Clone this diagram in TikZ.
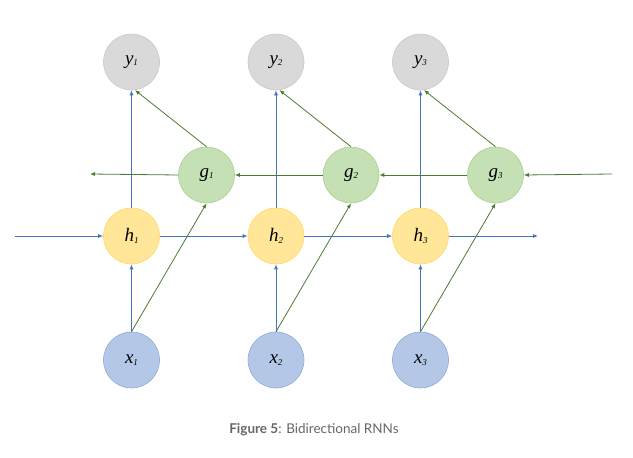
\documentclass[tikz,border=0pt]{standalone}
\usepackage{fontspec}
\newfontfamily\capfont{Lato}
\newfontfamily\lblfont{Liberation Serif}
\usetikzlibrary{arrows.meta}
\definecolor{yfill}{HTML}{D9D9D9}\definecolor{ydraw}{HTML}{C8C8C8}
\definecolor{gfill}{HTML}{C5E0B4}\definecolor{gdraw}{HTML}{A9D18E}
\definecolor{hfill}{HTML}{FFE699}\definecolor{hdraw}{HTML}{FFD966}
\definecolor{xfill}{HTML}{B4C7E7}\definecolor{xdraw}{HTML}{8FAADC}
\definecolor{bluearr}{HTML}{4472C4}\definecolor{greenarr}{HTML}{4E7A32}
\definecolor{capgray}{HTML}{666666}
\newcommand{\lbl}[2]{\lblfont\itshape #1\raisebox{-1.5pt}{\fontsize{9}{10}\selectfont #2}}
\tikzset{
  unit/.style={circle,minimum size=56pt,inner sep=0pt,line width=0.6pt,font=\fontsize{19}{21}\selectfont,text=black},
  ynode/.style={unit,fill=yfill,draw=ydraw},
  gnode/.style={unit,fill=gfill,draw=gdraw},
  hnode/.style={unit,fill=hfill,draw=hdraw},
  xnode/.style={unit,fill=xfill,draw=xdraw},
  barr/.style={draw=bluearr,line width=0.8pt,-{Latex[length=5pt,width=4pt]}},
  garr/.style={draw=greenarr,line width=0.8pt,-{Latex[length=5pt,width=4pt]}},
}
\begin{document}
\begin{tikzpicture}[x=1pt,y=-1pt]
\useasboundingbox (0,0) rectangle (633,458);
\foreach \i/\cx in {1/131.5,2/276,3/420.5}{
  \node[ynode] (y\i) at (\cx,62) {\lbl{y}{\i}};
  \node[gnode] (g\i) at (\cx+75,175) {\lbl{g}{\i}};
  \node[hnode] (h\i) at (\cx,236) {\lbl{h}{\i}};
  \node[xnode] (x\i) at (\cx,360) {\lbl{x}{\i}};
}
\coordinate (hin) at (15,236);
\coordinate (hout) at (538,236);
\coordinate (gin) at (612,174);
\coordinate (gout) at (90,174);
% vertical blue
\foreach \i in {1,2,3}{
  \draw[barr] (x\i.north) -- (h\i.south);
  \draw[barr] (h\i.north) -- (y\i.south);
}
% horizontal blue
\draw[barr] (hin) -- (h1.west);
\draw[barr] (h1.east) -- (h2.west);
\draw[barr] (h2.east) -- (h3.west);
\draw[barr] (h3.east) -- (hout);
% green
\draw[garr] (gin) -- (g3.east);
\draw[garr] (g3.west) -- (g2.east);
\draw[garr] (g2.west) -- (g1.east);
\draw[garr] (g1.west) -- (gout);
\foreach \i in {1,2,3}{
  \draw[garr] (x\i.north) -- (g\i.south);
  \draw[garr] (g\i.north) -- (y\i.-83);
}
\node[font=\capfont\fontsize{13.5}{16}\selectfont,text=capgray] (cap) at (314,430) {\textbf{Figure 5}: Bidirectional RNNs};
\end{tikzpicture}
\end{document}
